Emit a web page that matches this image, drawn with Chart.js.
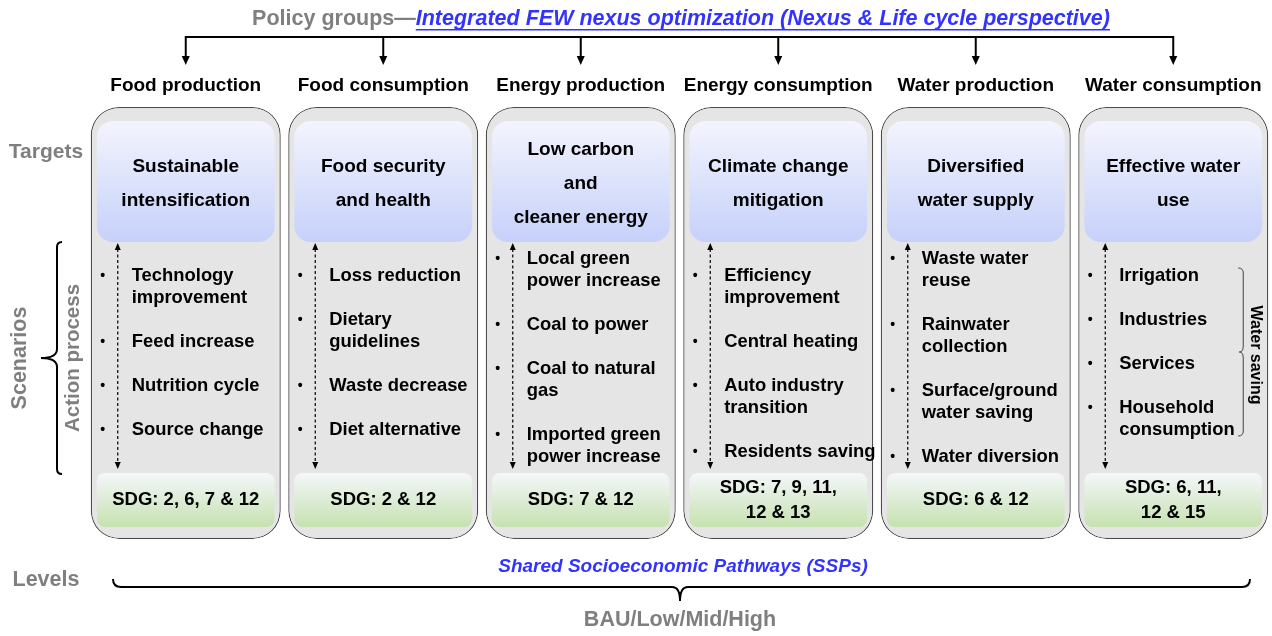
<!DOCTYPE html>
<html>
<head>
<meta charset="utf-8">
<script src="https://cdn.jsdelivr.net/npm/chart.js@4.4.1/dist/chart.umd.min.js"></script>
<style>
  body { margin: 0; background: #fff; }
  #wrap { width: 1272px; height: 636px; }
</style>
</head>
<body>
<div id="wrap"><canvas id="nexusChart"></canvas></div>
<script>
// diagram content
const titleLead = "Policy groups\u2014";
const titleLink = "Integrated FEW nexus optimization (Nexus & Life cycle perspective)";
const groups = ["Food production", "Food consumption", "Energy production",
  "Energy consumption", "Water production", "Water consumption"];
const targets = [
  ["Sustainable", "intensification"],
  ["Food security", "and health"],
  ["Low carbon", "and", "cleaner energy"],
  ["Climate change", "mitigation"],
  ["Diversified", "water supply"],
  ["Effective water", "use"]
];
const actions = [
  [["Technology", "improvement"], ["Feed increase"], ["Nutrition cycle"], ["Source change"]],
  [["Loss reduction"], ["Dietary", "guidelines"], ["Waste decrease"], ["Diet alternative"]],
  [["Local green", "power increase"], ["Coal to power"], ["Coal to natural", "gas"], ["Imported green", "power increase"]],
  [["Efficiency", "improvement"], ["Central heating"], ["Auto industry", "transition"], ["Residents saving"]],
  [["Waste water", "reuse"], ["Rainwater", "collection"], ["Surface/ground", "water saving"], ["Water diversion"]],
  [["Irrigation"], ["Industries"], ["Services"], ["Household", "consumption"]]
];
const sdgs = [
  ["SDG: 2, 6, 7 & 12"],
  ["SDG: 2 & 12"],
  ["SDG: 7 & 12"],
  ["SDG: 7, 9, 11,", "12 & 13"],
  ["SDG: 6 & 12"],
  ["SDG: 6, 11,", "12 & 15"]
];
const rowLabels = ["Targets", "Scenarios", "Action process", "Levels"];
const waterNote = "Water saving";
const levelsNote = "Shared Socioeconomic Pathways (SSPs)";
const levelsList = "BAU/Low/Mid/High";

// layout (pixel units on the y scale)
const PANEL = [107, 539];
const TARGET = [121, 242];
const SDG_BOX = [473, 527];

const FONT = '"Liberation Sans", Arial, sans-serif';
const GREY = "#7f7f7f";
const BLUE = "#3333ff";

function vGradient(chart, range, c0, c1) {
  const y = chart.scales.y;
  if (!chart.chartArea || !y) return c1;
  const g = chart.ctx.createLinearGradient(0, y.getPixelForValue(range[0]), 0, y.getPixelForValue(range[1]));
  g.addColorStop(0, c0);
  g.addColorStop(1, c1);
  return g;
}

function vBrace(ctx, x, y1, y2, endDx, tipDx, r) {
  const ym = (y1 + y2) / 2;
  const e = Math.abs(endDx);
  ctx.beginPath();
  ctx.moveTo(x + endDx, y1);
  ctx.quadraticCurveTo(x, y1, x, y1 + e);
  ctx.lineTo(x, ym - r);
  ctx.quadraticCurveTo(x, ym, x + tipDx, ym);
  ctx.quadraticCurveTo(x, ym, x, ym + r);
  ctx.lineTo(x, y2 - e);
  ctx.quadraticCurveTo(x, y2, x + endDx, y2);
  ctx.stroke();
}

function hBrace(ctx, x1, x2, y, endDy, tipDy, tipX, r) {
  const e = Math.abs(endDy);
  ctx.beginPath();
  ctx.moveTo(x1, y + endDy);
  ctx.quadraticCurveTo(x1, y, x1 + e, y);
  ctx.lineTo(tipX - r, y);
  ctx.quadraticCurveTo(tipX, y, tipX, y + tipDy);
  ctx.quadraticCurveTo(tipX, y, tipX + r, y);
  ctx.lineTo(x2 - e, y);
  ctx.quadraticCurveTo(x2, y, x2, y + endDy);
  ctx.stroke();
}

function arrowHead(ctx, x, y, dir, w, h) {
  ctx.beginPath();
  ctx.moveTo(x, y);
  ctx.lineTo(x - w / 2, y - dir * h);
  ctx.lineTo(x + w / 2, y - dir * h);
  ctx.closePath();
  ctx.fill();
}

const diagramText = {
  id: "diagramText",
  afterDatasetsDraw(chart) {
    const { ctx, scales: { x, y } } = chart;
    const px = i => x.getPixelForValue(i);
    const py = v => y.getPixelForValue(v);
    ctx.save();

    // title
    ctx.textBaseline = "middle";
    ctx.font = "bold 21.5px " + FONT;
    const w1 = ctx.measureText(titleLead).width;
    ctx.font = "italic bold 21.5px " + FONT;
    const w2 = ctx.measureText(titleLink).width;
    let tx = 681 - (w1 + w2) / 2;
    ctx.textAlign = "left";
    ctx.font = "bold 21.5px " + FONT;
    ctx.fillStyle = GREY;
    ctx.fillText(titleLead, tx, py(19));
    ctx.font = "italic bold 21.5px " + FONT;
    ctx.fillStyle = BLUE;
    ctx.fillText(titleLink, tx + w1, py(19));
    ctx.fillRect(tx + w1, py(29), w2, 1.5);

    // group bracket with arrows
    ctx.strokeStyle = "#000";
    ctx.fillStyle = "#000";
    ctx.lineWidth = 2;
    ctx.beginPath();
    ctx.moveTo(px(0), py(37));
    ctx.lineTo(px(groups.length - 1), py(37));
    ctx.stroke();
    groups.forEach((g, i) => {
      ctx.beginPath();
      ctx.moveTo(px(i), py(36));
      ctx.lineTo(px(i), py(58));
      ctx.stroke();
      arrowHead(ctx, px(i), py(65), 1, 8, 9);
    });

    // headers
    ctx.textAlign = "center";
    ctx.font = "bold 19px " + FONT;
    groups.forEach((g, i) => ctx.fillText(g, px(i), py(86)));

    // targets
    ctx.font = "bold 19px " + FONT;
    targets.forEach((lines, i) => {
      const top = 184 - (lines.length - 1) * 34 / 2;
      lines.forEach((t, k) => ctx.fillText(t, px(i), py(top + k * 34)));
    });

    // SDG
    ctx.font = "bold 18.5px " + FONT;
    sdgs.forEach((lines, i) => {
      const top = 500 - (lines.length - 1) * 25 / 2;
      lines.forEach((t, k) => ctx.fillText(t, px(i), py(top + k * 25)));
    });

    // action items
    actions.forEach((items, i) => {
      const cx = px(i);
      const nLines = items.reduce((s, it) => s + it.length, 0);
      const span = (nLines - 1) * 22 + (items.length - 1) * 22;
      let yy = span > 180 ? 259 : 276;
      items.forEach(it => {
        ctx.textAlign = "center";
        ctx.font = "bold 14px " + FONT;
        ctx.fillText("\u2022", cx - 83, py(yy));
        ctx.textAlign = "left";
        ctx.font = "bold 18.4px " + FONT;
        it.forEach((t, k) => ctx.fillText(t, cx - 54, py(yy + k * 22)));
        yy += it.length * 22 + 22;
      });

      // dashed double arrow
      const ax = cx - 68;
      ctx.lineWidth = 1.2;
      ctx.setLineDash([3, 2.5]);
      ctx.beginPath();
      ctx.moveTo(ax, py(249));
      ctx.lineTo(ax, py(463));
      ctx.stroke();
      ctx.setLineDash([]);
      arrowHead(ctx, ax, py(243), -1, 6, 7);
      arrowHead(ctx, ax, py(469), 1, 6, 7);
    });

    // water saving brace
    const wx = px(5);
    ctx.strokeStyle = "#444";
    ctx.lineWidth = 1;
    vBrace(ctx, wx + 70, py(268), py(436), -5, -4, 6);
    ctx.save();
    ctx.translate(wx + 82, py(355));
    ctx.rotate(Math.PI / 2);
    ctx.textAlign = "center";
    ctx.font = "bold 16px " + FONT;
    ctx.fillStyle = "#000";
    ctx.fillText(waterNote, 0, 0);
    ctx.restore();

    // left labels
    ctx.fillStyle = GREY;
    ctx.textAlign = "center";
    ctx.font = "bold 21px " + FONT;
    ctx.fillText(rowLabels[0], 46, py(152));
    ctx.font = "bold 21.5px " + FONT;
    ctx.fillText(rowLabels[3], 46, py(580));
    [[rowLabels[1], 20, 21.5], [rowLabels[2], 73, 20.5]].forEach(([t, lx, fs]) => {
      ctx.save();
      ctx.translate(lx, py(358));
      ctx.rotate(-Math.PI / 2);
      ctx.font = "bold " + fs + "px " + FONT;
      ctx.fillText(t, 0, 0);
      ctx.restore();
    });
    ctx.strokeStyle = "#000";
    ctx.lineWidth = 2;
    vBrace(ctx, 57, py(242), py(474), 5, -16, 9);

    // levels brace
    hBrace(ctx, 113, 1250, py(587), -8, 14, 680, 8);
    ctx.fillStyle = BLUE;
    ctx.font = "italic bold 19px " + FONT;
    ctx.fillText(levelsNote, 683, py(567));
    ctx.fillStyle = GREY;
    ctx.font = "bold 21.5px " + FONT;
    ctx.fillText(levelsList, 680, py(620));

    ctx.restore();
  }
};

const ctx = document.getElementById("nexusChart").getContext("2d");
new Chart(ctx, {
  type: "bar",
  data: {
    labels: groups,
    datasets: [
      {
        label: "SDG",
        data: groups.map(() => SDG_BOX),
        backgroundColor: c => vGradient(c.chart, SDG_BOX, "#f4f7fb", "#c6e1b0"),
        borderWidth: 0,
        borderRadius: 8,
        borderSkipped: false,
        barPercentage: 0.9,
        order: 0
      },
      {
        label: "Targets",
        data: groups.map(() => TARGET),
        backgroundColor: c => vGradient(c.chart, TARGET, "#f3f4fd", "#c6d1fa"),
        borderWidth: 0,
        borderRadius: 16,
        borderSkipped: false,
        barPercentage: 0.9,
        order: 1
      },
      {
        label: "Panel",
        data: groups.map(() => PANEL),
        backgroundColor: "#e5e5e5",
        borderColor: "#4d4d4d",
        borderWidth: 1.3,
        borderRadius: 28,
        borderSkipped: false,
        barPercentage: 0.962,
        order: 2
      }
    ]
  },
  options: {
    responsive: true,
    maintainAspectRatio: false,
    animation: false,
    events: [],
    layout: { padding: { left: 87, right: 0, top: 0, bottom: 0 } },
    datasets: {
      bar: { grouped: false, categoryPercentage: 1, inflateAmount: 0 }
    },
    scales: {
      x: { type: "category", display: false, offset: true },
      y: { type: "linear", min: 0, max: 636, reverse: true, display: false }
    },
    plugins: {
      legend: { display: false },
      tooltip: { enabled: false }
    }
  },
  plugins: [diagramText]
});
</script>
</body>
</html>
